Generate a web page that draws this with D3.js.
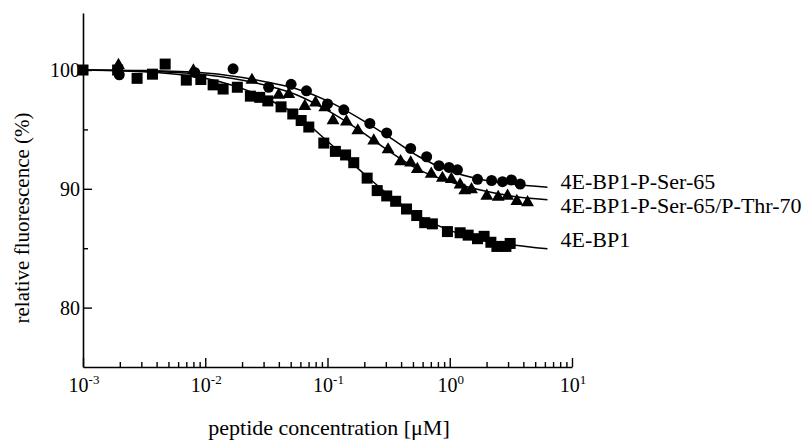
<!DOCTYPE html>
<html>
<head>
<meta charset="utf-8">
<script src="https://cdn.jsdelivr.net/npm/d3@7"></script>
<style>
  body { margin: 0; background: #fff; }
  svg { font-family: "Liberation Serif", "Times New Roman", serif; }
</style>
</head>
<body>
<div class="chart"></div>
<script>
// measured points: [concentration uM, relative fluorescence %]
const bp1Points = [
    [0.001, 100.0], [0.00192, 100.0], [0.00277, 99.3], [0.0037, 99.65], [0.0047, 100.5],
    [0.0070, 99.15], [0.0092, 99.2], [0.0116, 98.75], [0.0140, 98.4], [0.0183, 98.55],
    [0.0234, 97.8], [0.0279, 97.7], [0.0325, 97.4], [0.0417, 96.9], [0.052, 96.3],
    [0.0609, 95.75], [0.0703, 95.2], [0.0933, 93.85], [0.116, 93.15], [0.1406, 92.85],
    [0.164, 92.2], [0.211, 90.9], [0.255, 89.85], [0.305, 89.4], [0.361, 88.95],
    [0.443, 88.3], [0.537, 87.75], [0.624, 87.15], [0.721, 87.05], [0.957, 86.4],
    [1.216, 86.3], [1.414, 86.1], [1.687, 85.8], [1.91, 86.0], [2.17, 85.5],
    [2.43, 85.15], [2.88, 85.15], [3.12, 85.4]
];
const serThrPoints = [
    [0.00195, 100.4], [0.0080, 99.95], [0.0241, 99.15], [0.0399, 97.9], [0.0482, 97.95],
    [0.0652, 96.95], [0.0798, 97.25], [0.095, 96.85], [0.111, 95.75], [0.143, 95.65],
    [0.177, 94.9], [0.239, 94.05], [0.313, 93.3], [0.396, 92.3], [0.479, 92.2],
    [0.543, 91.65], [0.706, 91.25], [0.871, 90.9], [1.03, 90.8], [1.215, 90.35],
    [1.327, 89.85], [1.506, 89.95], [2.01, 89.4], [2.49, 89.3], [2.97, 89.4],
    [3.54, 88.95], [4.33, 88.85]
];
const serPoints = [
    [0.00198, 99.6], [0.0082, 99.8], [0.0169, 100.1], [0.0330, 98.55], [0.0504, 98.8],
    [0.0673, 98.25], [0.100, 97.15], [0.136, 96.65], [0.222, 95.5], [0.305, 94.7],
    [0.479, 93.4], [0.647, 92.7], [0.816, 91.95], [0.986, 91.8], [1.156, 91.6],
    [1.687, 90.8], [2.20, 90.7], [2.70, 90.6], [3.20, 90.75], [3.77, 90.4]
];

// fitted curves
const fitConc = [0.001, 0.00316, 0.01, 0.0316, 0.0562, 0.1, 0.178, 0.316, 0.562, 1, 1.78, 3.16, 6.3];
const bp1Fit = [100, 99.85, 99.3, 97.6, 96.2, 94.0, 91.7, 89.5, 87.7, 86.5, 85.7, 85.3, 84.96];
const serThrFit = [100, 99.9, 99.6, 98.7, 97.9, 96.6, 95.0, 93.2, 91.6, 90.6, 89.9, 89.4, 89.08];
const serFit = [100, 99.95, 99.75, 99.0, 98.4, 97.4, 96.0, 94.4, 92.7, 91.5, 90.8, 90.4, 90.14];

const seriesNames = ["4E-BP1-P-Ser-65", "4E-BP1-P-Ser-65/P-Thr-70", "4E-BP1"];
const xTickExps = [-3, -2, -1, 0, 1];
const yTickValues = [80, 90, 100];
const yMinorValues = [85, 95];

const svgW = 809;
const svgH = 440;

let x = d3.scaleLog()
    .domain([1e-3, 1e1])
    .range([83, 572]);
let y = d3.scaleLinear()
    .domain([75, 104.8])
    .range([367, 13]);

const svg = d3.select("div.chart")
    .append("svg")
        .attr("width", svgW)
        .attr("height", svgH);

// axes
let minorX = [];
for (let e = -3; e < 1; e++) {
    for (let k = 2; k <= 9; k++) minorX.push(k * Math.pow(10, e));
}

svg.append("g")
    .attr("transform", `translate(0,${y(75)})`)
    .call(d3.axisTop(x).tickValues(minorX).tickSize(5).tickFormat(""))
    .call(g => g.select(".domain").remove());

let xAxis = svg.append("g")
    .attr("transform", `translate(0,${y(75)})`)
    .call(d3.axisTop(x).tickValues(xTickExps.map(e => Math.pow(10, e))).tickSize(9).tickSizeOuter(0).tickFormat(""));
xAxis.select(".domain").attr("stroke-width", 1.6);

svg.append("g")
    .selectAll("text")
    .data(xTickExps)
    .join("text")
    .attr("x", d => x(Math.pow(10, d)) + 1)
    .attr("y", y(75) + 25)
    .attr("text-anchor", "middle")
    .attr("font-size", 20)
    .text("10")
    .append("tspan")
        .attr("dy", -8)
        .attr("font-size", 13)
        .text(d => d);

svg.append("g")
    .attr("transform", `translate(${x(1e-3)},0)`)
    .call(d3.axisRight(y).tickValues(yMinorValues).tickSize(5).tickFormat(""))
    .call(g => g.select(".domain").remove());

let yAxis = svg.append("g")
    .attr("transform", `translate(${x(1e-3)},0)`)
    .call(d3.axisRight(y).tickValues(yTickValues).tickSize(9).tickSizeOuter(0).tickFormat(""));
yAxis.select(".domain").attr("stroke-width", 1.6);

svg.append("g")
    .selectAll("text")
    .data(yTickValues)
    .join("text")
    .attr("x", x(1e-3) - 3)
    .attr("y", d => y(d) + 7)
    .attr("text-anchor", "end")
    .attr("font-size", 20)
    .text(d => d);

svg.selectAll(".tick line").attr("stroke-width", 1.4);

// axis titles
svg.append("text")
    .attr("x", 329)
    .attr("y", 435)
    .attr("text-anchor", "middle")
    .attr("font-size", 22)
    .text("peptide concentration [\u03bcM]");

svg.append("text")
    .attr("transform", `translate(29,218) rotate(-90)`)
    .attr("text-anchor", "middle")
    .attr("font-size", 21)
    .text("relative fluorescence (%)");

// fit lines
let line = d3.line()
    .x((d, i) => x(fitConc[i]))
    .y(d => y(d))
    .curve(d3.curveMonotoneX);

[serFit, serThrFit, bp1Fit].forEach(f => {
    svg.append("path")
        .attr("d", line(f))
        .attr("fill", "none")
        .attr("stroke", "#000")
        .attr("stroke-width", 1.5);
});

// markers
svg.append("g")
    .selectAll("rect")
    .data(bp1Points)
    .join("rect")
    .attr("x", d => x(d[0]) - 5.5)
    .attr("y", d => y(d[1]) - 5.5)
    .attr("width", 11)
    .attr("height", 11)
    .attr("fill", "#000");

let triangle = d3.symbol().type(d3.symbolTriangle).size(72);
svg.append("g")
    .selectAll("path")
    .data(serThrPoints)
    .join("path")
    .attr("transform", d => `translate(${x(d[0])},${y(d[1])})`)
    .attr("d", triangle)
    .attr("fill", "#000");

svg.append("g")
    .selectAll("circle")
    .data(serPoints)
    .join("circle")
    .attr("cx", d => x(d[0]))
    .attr("cy", d => y(d[1]))
    .attr("r", 5.5)
    .attr("fill", "#000");

// series labels beside line ends
const labelVals = [serFit, serThrFit, bp1Fit].map(f => f[f.length - 1]);
const labelDy = [2, 13, -2];
svg.append("g")
    .selectAll("text")
    .data(seriesNames)
    .join("text")
    .attr("x", x(6.3) + 13)
    .attr("y", (d, i) => y(labelVals[i]) + labelDy[i])
    .attr("font-size", 22)
    .text(d => d);
</script>
</body>
</html>
